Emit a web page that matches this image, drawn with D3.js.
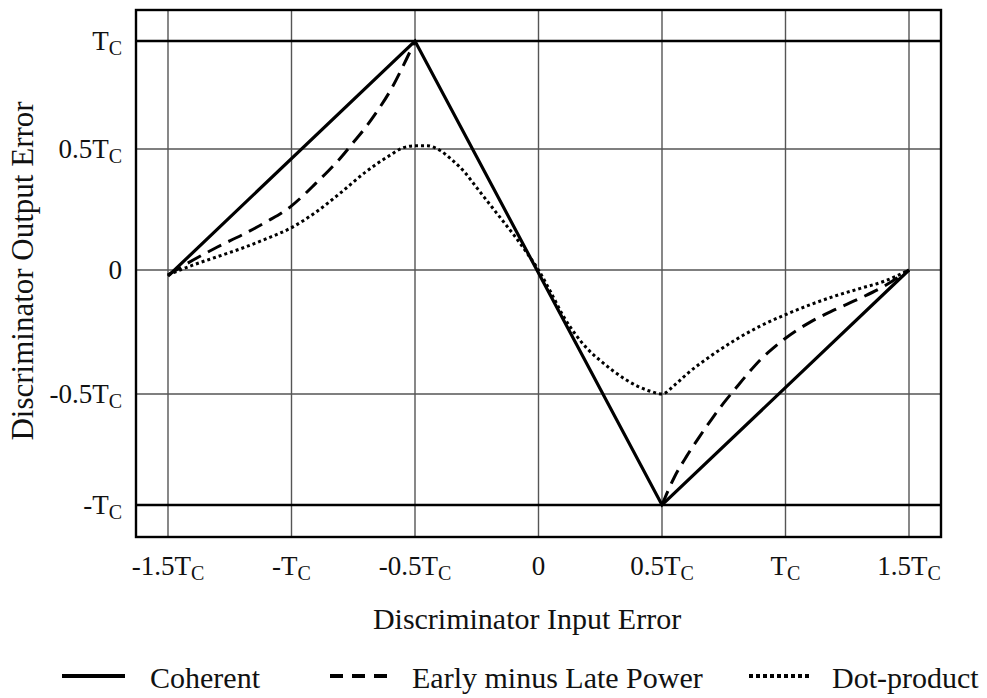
<!DOCTYPE html>
<html>
<head>
<meta charset="utf-8">
<script src="https://cdn.jsdelivr.net/npm/d3@7"></script>
<style>
  body { margin: 0; background: #fff; }
  text { font-family: "Liberation Serif", "Times New Roman", serif; fill: #111; }
</style>
</head>
<body>
<div id="graph"></div>
<script>
// tick values (in units of Tc) and their labels
var xTicks = [-1.5, -1, -0.5, 0, 0.5, 1, 1.5]
var xTickLabels = ["-1.5T", "-T", "-0.5T", "0", "0.5T", "T", "1.5T"]
var yTicks = [1, 0.5, 0, -0.5, -1]
var yTickLabels = ["T", "0.5T", "0", "-0.5T", "-T"]

// curves: [input error, output error] in Tc
var coherent = [[-1.5, -0.025], [-0.5, 1], [0.5, -1], [1.5, 0]]

var emlLeft = [[-1.5, -0.02], [-1.4, 0.04], [-1.3, 0.095], [-1.2, 0.145], [-1.1, 0.2],
               [-1.0, 0.265], [-0.95, 0.31], [-0.9, 0.36], [-0.85, 0.41], [-0.8, 0.465],
               [-0.75, 0.53], [-0.7, 0.6], [-0.65, 0.68], [-0.6, 0.77], [-0.55, 0.88],
               [-0.5, 1.0]]
var emlRight = [[0.5, -1], [0.55, -0.875], [0.6, -0.78], [0.65, -0.695], [0.7, -0.615],
                [0.75, -0.54], [0.8, -0.475], [0.85, -0.415], [0.9, -0.36], [0.95, -0.315],
                [1.0, -0.275], [1.1, -0.21], [1.2, -0.16], [1.3, -0.115], [1.4, -0.065],
                [1.5, 0]]

var dotProduct = [[-1.5, -0.02], [-1.4, 0.02], [-1.3, 0.055], [-1.2, 0.09], [-1.1, 0.13],
                  [-1.0, 0.175], [-0.9, 0.24], [-0.8, 0.32], [-0.7, 0.405], [-0.6, 0.475],
                  [-0.55, 0.505], [-0.5, 0.515], [-0.45, 0.515], [-0.4, 0.495], [-0.35, 0.455],
                  [-0.3, 0.405], [-0.25, 0.34], [-0.2, 0.275], [-0.15, 0.21], [-0.1, 0.145],
                  [-0.05, 0.075], [0, 0], [0.05, -0.09], [0.1, -0.185], [0.15, -0.26],
                  [0.2, -0.32], [0.25, -0.365], [0.3, -0.405], [0.35, -0.44], [0.4, -0.468],
                  [0.45, -0.488], [0.5, -0.5], [0.55, -0.465], [0.6, -0.42], [0.7, -0.345],
                  [0.8, -0.28], [0.9, -0.225], [1.0, -0.18], [1.1, -0.14], [1.2, -0.105],
                  [1.3, -0.075], [1.4, -0.045], [1.5, 0]]

var legendLabels = ["Coherent", "Early minus Late Power", "Dot-product"]

/*
    Layout
*/
var W = 987, H = 698
var frame = {left: 136, top: 10, right: 941, bottom: 537}

var svg = d3.select("#graph").append("svg")
            .attr("width", W)
            .attr("height", H)

// Set the ranges (the scanned figure is a bit uneven vertically)
var x = d3.scaleLinear().domain([-1.5, 1.5]).range([168, 909])
var y = d3.scaleLinear().domain([-1, -0.5, 0, 0.5, 1]).range([505, 394, 270, 149, 41])

// grid
svg.selectAll(".vgrid").data(xTicks).enter().append("line")
    .attr("x1", function(d) { return x(d) }).attr("x2", function(d) { return x(d) })
    .attr("y1", frame.top).attr("y2", frame.bottom)
    .attr("stroke", "#555").attr("stroke-width", 1.4)

svg.selectAll(".hgrid").data(yTicks).enter().append("line")
    .attr("x1", frame.left).attr("x2", frame.right)
    .attr("y1", function(d) { return y(d) }).attr("y2", function(d) { return y(d) })
    .attr("stroke", function(d) { return Math.abs(d) == 1 ? "#000" : "#555" })
    .attr("stroke-width", function(d) { return Math.abs(d) == 1 ? 2.4 : 1.4 })

// frame
svg.append("rect")
    .attr("x", frame.left).attr("y", frame.top)
    .attr("width", frame.right - frame.left).attr("height", frame.bottom - frame.top)
    .attr("fill", "none").attr("stroke", "#000").attr("stroke-width", 2.4)

// label with subscript C after the T
function tcLabel(sel, s, subSize) {
    if (s.slice(-1) == "T") {
        sel.append("tspan").text(s)
        sel.append("tspan").attr("font-size", subSize).attr("dy", 5).text("C")
    } else {
        sel.text(s)
    }
}

svg.selectAll(".xlab").data(xTicks).enter().append("text")
    .attr("x", function(d) { return x(d) })
    .attr("y", 575)
    .attr("text-anchor", "middle")
    .attr("font-size", 27)
    .each(function(d, i) { tcLabel(d3.select(this), xTickLabels[i], 20) })

svg.selectAll(".ylab").data(yTicks).enter().append("text")
    .attr("x", 122)
    .attr("y", function(d) { return y(d) + 9 })
    .attr("text-anchor", "end")
    .attr("font-size", 27)
    .each(function(d, i) { tcLabel(d3.select(this), yTickLabels[i], 20) })

// axis titles
svg.append("text")
    .attr("x", 527).attr("y", 629)
    .attr("text-anchor", "middle").attr("font-size", 30)
    .text("Discriminator Input Error")

svg.append("text")
    .attr("transform", "translate(33,271) rotate(-90)")
    .attr("text-anchor", "middle").attr("font-size", 31)
    .text("Discriminator Output Error")

// curves
var line = d3.line()
    .x(function(d) { return x(d[0]) })
    .y(function(d) { return y(d[1]) })
var smooth = d3.line()
    .x(function(d) { return x(d[0]) })
    .y(function(d) { return y(d[1]) })
    .curve(d3.curveMonotoneX)

svg.append("path").attr("d", smooth(dotProduct))
    .attr("fill", "none").attr("stroke", "#000").attr("stroke-width", 3)
    .attr("stroke-dasharray", "3,3")

;[emlLeft, emlRight].forEach(function(arm) {
    svg.append("path").attr("d", smooth(arm))
        .attr("fill", "none").attr("stroke", "#000").attr("stroke-width", 3)
        .attr("stroke-dasharray", "15,8")
})

svg.append("path").attr("d", line(coherent))
    .attr("fill", "none").attr("stroke", "#000").attr("stroke-width", 3.2)
    .attr("stroke-linejoin", "miter")

// legend
var legendX = [62, 330, 749]
var legendDash = [null, "13,9", "4,3"]
legendLabels.forEach(function(lab, i) {
    var g = svg.append("g").attr("transform", "translate(" + legendX[i] + ",676)")
    g.append("line").attr("x1", 0).attr("x2", 63)
        .attr("stroke", "#000").attr("stroke-width", 4)
        .attr("stroke-dasharray", legendDash[i])
    g.append("text").attr("x", i == 0 ? 88 : (i == 1 ? 82 : 83)).attr("y", 12)
        .attr("font-size", 30).text(lab)
})
</script>
</body>
</html>
